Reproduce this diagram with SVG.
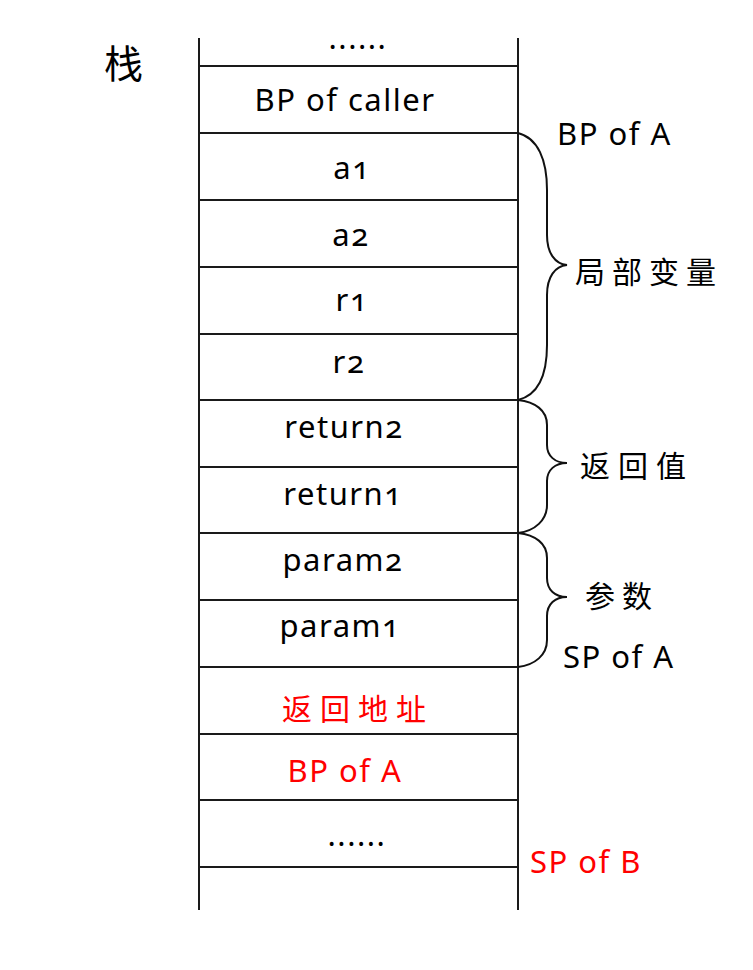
<svg xmlns="http://www.w3.org/2000/svg" width="753" height="970" viewBox="0 0 753 970">
<style>
.ln{stroke:#1a1a1a;stroke-width:2;fill:none}
.br{stroke:#111;stroke-width:2;fill:none}
.t{font-family:"Noto Sans","Open Sans","DejaVu Sans",sans-serif;font-size:31px;letter-spacing:1.5px;fill:#000;font-variant-numeric:oldstyle-nums}
.c{text-anchor:middle}
.cj{font-family:"Noto Sans CJK SC","Noto Sans",sans-serif;font-size:30px;fill:#000}
.red{fill:#ff0000}
</style>
<rect width="753" height="970" fill="#fff"/>
<text class="cj" x="104" y="78" style="font-size:39px">栈</text>
<g id="stack-frame">
<line class="ln" x1="199" y1="38" x2="199" y2="910"/>
<line class="ln" x1="518" y1="38" x2="518" y2="910"/>
<line class="ln" x1="199" y1="66" x2="518" y2="66"/>
<line class="ln" x1="199" y1="133" x2="518" y2="133"/>
<line class="ln" x1="199" y1="200" x2="518" y2="200"/>
<line class="ln" x1="199" y1="267" x2="518" y2="267"/>
<line class="ln" x1="199" y1="334" x2="518" y2="334"/>
<line class="ln" x1="199" y1="400" x2="518" y2="400"/>
<line class="ln" x1="199" y1="467" x2="518" y2="467"/>
<line class="ln" x1="199" y1="533" x2="518" y2="533"/>
<line class="ln" x1="199" y1="600" x2="518" y2="600"/>
<line class="ln" x1="199" y1="667" x2="518" y2="667"/>
<line class="ln" x1="199" y1="734" x2="518" y2="734"/>
<line class="ln" x1="199" y1="800" x2="518" y2="800"/>
<line class="ln" x1="199" y1="867" x2="518" y2="867"/>
</g>
<g id="cell-dots-top"><text class="t c" x="358" y="49" style="letter-spacing:1.5px">......</text></g>
<g id="cell-bp-caller"><text class="t c" x="345" y="111">BP of caller</text></g>
<g id="cell-a1"><text class="t c" x="352" y="179">a1</text></g>
<g id="cell-a2"><text class="t c" x="351" y="246">a2</text></g>
<g id="cell-r1"><text class="t c" x="352" y="311">r1</text></g>
<g id="cell-r2"><text class="t c" x="349" y="373">r2</text></g>
<g id="cell-return2"><text class="t c" x="344" y="438">return2</text></g>
<g id="cell-return1"><text class="t c" x="343" y="505">return1</text></g>
<g id="cell-param2"><text class="t c" x="343" y="571">param2</text></g>
<g id="cell-param1"><text class="t c" x="340" y="637">param1</text></g>
<g id="cell-retaddr"><text class="cj red" x="282" y="720" style="letter-spacing:8px">返回地址</text></g>
<g id="cell-bp-a"><text class="t c red" x="345" y="782">BP of A</text></g>
<g id="cell-dots-bottom"><text class="t c" x="357" y="846" style="letter-spacing:1.5px">......</text></g>
<g id="connectors">
<path class="br" d="M518,133 C538,138 547,160 547,190 L547,235 C547,253 555,264 567,265 C555,266 547,277 547,295 L547,345 C547,375 538,395 518,400"/>
<path class="br" d="M518,400 C535,402 547,410 547,425 L547,445 C547,456 555,463 567,463 C555,463 547,470 547,481 L547,505 C547,520 535,531 518,533"/>
<path class="br" d="M518,533 C535,535 547,543 547,558 L547,578 C547,590 555,597 567,597 C555,597 547,604 547,616 L547,640 C547,655 535,665 518,667"/>
</g>
<g id="label-bp-a"><text class="t" x="557" y="145">BP of A</text></g>
<g id="label-locals"><text class="cj" x="575" y="283" style="letter-spacing:7px">局部变量</text></g>
<g id="label-retval"><text class="cj" x="580" y="477" style="letter-spacing:8px">返回值</text></g>
<g id="label-params"><text class="cj" x="585" y="607" style="letter-spacing:7px">参数</text></g>
<g id="label-sp-a"><text class="t" x="563" y="668">SP of A</text></g>
<g id="label-sp-b"><text class="t red" x="530" y="873">SP of B</text></g>
</svg>
